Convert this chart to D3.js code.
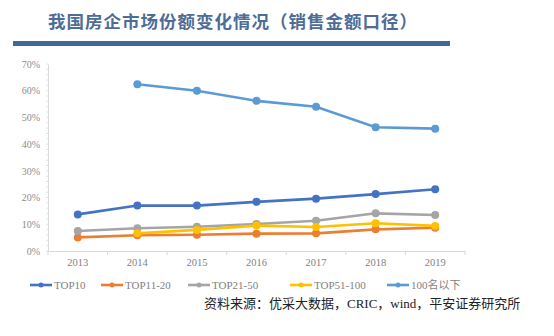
<!DOCTYPE html>
<html><head><meta charset="utf-8">
<script src="https://cdn.jsdelivr.net/npm/d3@7"></script>
<style>
html,body{margin:0;padding:0;background:#fff;}
svg{display:block;}
</style></head>
<body>
<svg id="chart" width="554" height="336"></svg>
<script>
const years = ["2013","2014","2015","2016","2017","2018","2019"];
const seriesNames = ["TOP10","TOP11-20","TOP21-50","TOP51-100","100名以下"];
const seriesColors = ["#4472C4","#ED7D31","#A5A5A5","#FFC000","#5B9BD5"];
const top10 = [13.7,17.0,17.0,18.4,19.6,21.3,23.1];
const top11_20 = [5.1,5.9,6.1,6.5,6.6,8.1,8.7];
const top21_50 = [7.5,8.5,9.1,10.1,11.3,14.1,13.5];
const top51_100 = [null,6.6,7.9,9.5,9.0,10.4,9.4];
const below100 = [null,62.4,60.0,56.2,54.0,46.3,45.8];
const yTicks = [0,10,20,30,40,50,60,70];
const titleText = "我国房企市场份额变化情况（销售金额口径）";
const sourceText = "资料来源：优采大数据，CRIC，wind，平安证券研究所";

const seriesData = [top10, top11_20, top21_50, top51_100, below100];
const svg = d3.select("#chart");
const serif = "'Liberation Serif','DejaVu Serif',serif";
const cjk = "'Liberation Serif','Noto Sans CJK SC',serif";

// title
svg.append("text").attr("x",48).attr("y",28)
  .attr("font-family","'Noto Sans CJK SC',sans-serif").attr("font-weight","bold")
  .attr("font-size",17.5).attr("letter-spacing",1).attr("fill","#4d6c97")
  .text(titleText);
svg.append("rect").attr("x",13).attr("y",41).attr("width",437).attr("height",5).attr("fill","#3d6a99");

const x = d3.scaleBand().domain(years).range([48,465]);
const y = d3.scaleLinear().domain([0,70]).range([251,64]);

// y axis
const yAxis = d3.axisLeft(y).tickValues(yTicks).tickFormat(d=>d+"%").tickSize(0).tickPadding(8);
const gy = svg.append("g").attr("transform","translate(48,0)").call(yAxis);
gy.select(".domain").attr("stroke","#d9d9d9");
gy.selectAll("text").attr("font-family",serif).attr("font-size",10).attr("fill","#8c8c8c");
// minor ticks on y axis
svg.append("g").selectAll("line").data(d3.range(0,70.01,2)).join("line")
  .attr("x1",46).attr("x2",48).attr("y1",d=>y(d)).attr("y2",d=>y(d)).attr("stroke","#e3e3e3");

// x axis
const xAxis = d3.axisBottom(x).tickSize(0).tickPadding(8);
const gx = svg.append("g").attr("transform","translate(0,251)").call(xAxis);
gx.select(".domain").attr("stroke","#d9d9d9");
gx.selectAll("text").attr("font-family",serif).attr("font-size",10.5).attr("fill","#7f7f7f");
svg.append("g").selectAll("line").data(years.concat(["end"])).join("line")
  .attr("x1",(d,i)=>48+i*x.step()).attr("x2",(d,i)=>48+i*x.step())
  .attr("y1",251).attr("y2",255).attr("stroke","#d9d9d9");

// lines
const line = d3.line().defined(d=>d.v!==null).x(d=>x(d.year)+x.bandwidth()/2).y(d=>y(d.v));
seriesData.forEach((arr,i)=>{
  const pts = years.map((yr,j)=>({year:yr,v:arr[j]}));
  svg.append("path").datum(pts).attr("d",line).attr("fill","none")
    .attr("stroke",seriesColors[i]).attr("stroke-width",2.6);
  svg.append("g").selectAll("circle").data(pts.filter(d=>d.v!==null)).join("circle")
    .attr("cx",d=>x(d.year)+x.bandwidth()/2).attr("cy",d=>y(d.v)).attr("r",4)
    .attr("fill",seriesColors[i]);
});

// legend
const legX = [30,101,188,290,387];
seriesNames.forEach((n,i)=>{
  const g = svg.append("g").attr("transform",`translate(${legX[i]},285)`);
  g.append("line").attr("x1",0).attr("x2",22).attr("stroke",seriesColors[i]).attr("stroke-width",2.6);
  g.append("circle").attr("cx",11).attr("r",2.5).attr("fill",seriesColors[i]);
  g.append("text").attr("x",24).attr("y",4).attr("font-family",cjk).attr("font-size",11)
    .attr("fill","#7f7f7f").text(n);
});

// source
svg.append("text").attr("x",204).attr("y",308).attr("font-family",cjk)
  .attr("font-size",13).attr("fill","#222").text(sourceText);
</script>
</body></html>
